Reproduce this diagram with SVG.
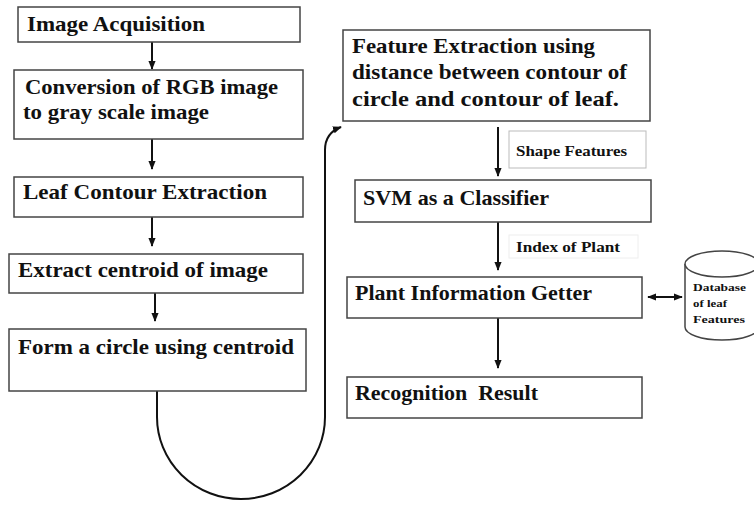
<svg xmlns="http://www.w3.org/2000/svg" width="754" height="506" viewBox="0 0 754 506">
<defs>
<marker id="ah" viewBox="0 0 10 10" refX="9" refY="5" markerWidth="4.5" markerHeight="4.5" orient="auto-start-reverse" markerUnits="strokeWidth">
<path d="M0,1 L10,5 L0,9 z" fill="#111"/>
</marker>
<style>
.box{fill:#fff;stroke:#444;stroke-width:1.5}
.lbl{fill:#fff;stroke:#bbb;stroke-width:1}
.lbl2{fill:#fff;stroke:#eee;stroke-width:1}
text{font-family:'Liberation Serif','Times New Roman',serif;font-weight:bold;fill:#111}
.t{font-size:21px}
.s{font-size:14px}
.d{font-size:11px}
.c{fill:none;stroke:#111;stroke-width:2}
</style>
</defs>
<rect width="754" height="506" fill="#fff"/>
<g id="connectors">
<line class="c" x1="152" y1="42" x2="152" y2="69" marker-end="url(#ah)"/>
<line class="c" x1="152" y1="139" x2="152" y2="169" marker-end="url(#ah)"/>
<line class="c" x1="152" y1="217" x2="152" y2="246" marker-end="url(#ah)"/>
<line class="c" x1="155" y1="293" x2="155" y2="321" marker-end="url(#ah)"/>
<path class="c" d="M157,391 L157,417 A84,82 0 0 0 325,417 L325,150 Q325,133 341,127" marker-end="url(#ah)"/>
<line class="c" x1="498" y1="127" x2="498" y2="176" marker-end="url(#ah)"/>
<line class="c" x1="498" y1="222" x2="498" y2="270" marker-end="url(#ah)"/>
<line class="c" x1="498" y1="318" x2="498" y2="368" marker-end="url(#ah)"/>
<line class="c" x1="648" y1="297" x2="682" y2="297" marker-start="url(#ah)" marker-end="url(#ah)"/>
</g>
<g id="n1"><rect class="box" x="18" y="7" width="282" height="35"/><text class="t" x="27" y="31" textLength="178" lengthAdjust="spacingAndGlyphs">Image Acquisition</text></g>
<g id="n2"><rect class="box" x="14" y="70" width="289" height="69"/><text class="t" x="25" y="94" textLength="253" lengthAdjust="spacingAndGlyphs">Conversion of RGB image</text><text class="t" x="23" y="119" textLength="186" lengthAdjust="spacingAndGlyphs">to gray scale image</text></g>
<g id="n3"><rect class="box" x="14" y="177" width="289" height="40"/><text class="t" x="23" y="199" textLength="244" lengthAdjust="spacingAndGlyphs">Leaf Contour Extraction</text></g>
<g id="n4"><rect class="box" x="9" y="254" width="294" height="39"/><text class="t" x="18" y="277" textLength="250" lengthAdjust="spacingAndGlyphs">Extract centroid of image</text></g>
<g id="n5"><rect class="box" x="9" y="329" width="297" height="62"/><text class="t" x="18" y="354" textLength="276" lengthAdjust="spacingAndGlyphs">Form a circle using centroid</text></g>
<g id="n6"><rect class="box" x="343" y="30" width="307" height="91"/><text class="t" x="352" y="53" textLength="243" lengthAdjust="spacingAndGlyphs">Feature Extraction using</text><text class="t" x="352" y="79" textLength="275" lengthAdjust="spacingAndGlyphs">distance between contour of</text><text class="t" x="352" y="106" textLength="267" lengthAdjust="spacingAndGlyphs">circle and contour of leaf.</text></g>
<g id="lbl-shape"><rect class="lbl" x="509" y="131" width="137" height="37"/><text class="s" x="516" y="156" textLength="111" lengthAdjust="spacingAndGlyphs">Shape Features</text></g>
<g id="n7"><rect class="box" x="355" y="180" width="296" height="42"/><text class="t" x="363" y="205" textLength="186" lengthAdjust="spacingAndGlyphs">SVM as a Classifier</text></g>
<g id="lbl-index"><rect class="lbl2" x="509" y="235" width="129" height="23"/><text class="s" x="516" y="252" textLength="104" lengthAdjust="spacingAndGlyphs">Index of Plant</text></g>
<g id="n8"><rect class="box" x="347" y="277" width="295" height="41"/><text class="t" x="355" y="300" textLength="237" lengthAdjust="spacingAndGlyphs">Plant Information Getter</text></g>
<g id="n9"><rect class="box" x="347" y="377" width="295" height="41"/><text class="t" x="355" y="400" textLength="183" lengthAdjust="spacingAndGlyphs" xml:space="preserve">Recognition  Result</text></g>
<g id="db">
<path class="box" d="M685,264 L685,327 A37,13 0 0 0 759,327 L759,264"/>
<ellipse class="box" cx="722" cy="264" rx="37" ry="13"/>
<text class="d" x="693" y="291" textLength="53" lengthAdjust="spacingAndGlyphs">Database</text>
<text class="d" x="693" y="307" textLength="34" lengthAdjust="spacingAndGlyphs">of leaf</text>
<text class="d" x="693" y="323" textLength="52" lengthAdjust="spacingAndGlyphs">Features</text>
</g>
</svg>
